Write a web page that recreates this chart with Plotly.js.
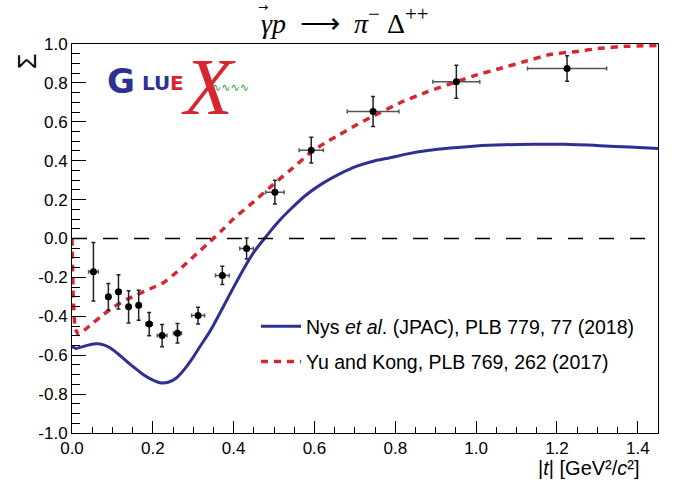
<!DOCTYPE html>
<html><head><meta charset="utf-8">
<script src="https://cdn.plot.ly/plotly-3.0.1.min.js"></script>
<style>body{margin:0;background:#fff}</style></head>
<body><div id="c" style="width:678px;height:485px"></div>
<script>
// GlueX data points
const dataT    = [0.053, 0.090, 0.115, 0.140, 0.165, 0.191, 0.223, 0.261, 0.312, 0.372, 0.432, 0.502, 0.592, 0.745, 0.951, 1.225];
const dataSig  = [-0.171, -0.300, -0.274, -0.351, -0.343, -0.440, -0.499, -0.487, -0.396, -0.190, -0.051, 0.238, 0.454, 0.653, 0.806, 0.874];
const dataSigErr = [0.150, 0.068, 0.088, 0.083, 0.077, 0.060, 0.057, 0.050, 0.043, 0.047, 0.054, 0.061, 0.066, 0.077, 0.085, 0.066];
const dataTErr = [0.012, 0.005, 0.005, 0.005, 0.005, 0.008, 0.012, 0.010, 0.016, 0.017, 0.017, 0.023, 0.030, 0.064, 0.058, 0.098];

// Nys et al. (JPAC) curve
const jpacT   = [0, 0.01, 0.02, 0.04, 0.061, 0.08, 0.094, 0.115, 0.135, 0.155, 0.176, 0.198, 0.218, 0.24, 0.259, 0.28, 0.30, 0.32, 0.342, 0.375, 0.40, 0.424, 0.45, 0.482, 0.51, 0.54, 0.58, 0.622, 0.66, 0.705, 0.75, 0.787, 0.83, 0.88, 0.936, 1.0, 1.07, 1.142, 1.22, 1.307, 1.38, 1.45];
const jpacSig = [-0.555, -0.565, -0.56, -0.548, -0.541, -0.548, -0.562, -0.595, -0.631, -0.665, -0.699, -0.726, -0.742, -0.738, -0.716, -0.668, -0.61, -0.545, -0.475, -0.348, -0.25, -0.159, -0.07, 0.015, 0.085, 0.149, 0.225, 0.286, 0.33, 0.372, 0.40, 0.415, 0.435, 0.452, 0.465, 0.476, 0.482, 0.485, 0.484, 0.477, 0.47, 0.463];

// Yu and Kong curve
const ykT   = [0, 0.003, 0.008, 0.016, 0.04, 0.078, 0.105, 0.135, 0.16, 0.185, 0.205, 0.226, 0.255, 0.284, 0.313, 0.342, 0.37, 0.399, 0.45, 0.498, 0.545, 0.589, 0.625, 0.663, 0.70, 0.746, 0.812, 0.88, 0.951, 1.0, 1.059, 1.12, 1.183, 1.25, 1.307, 1.37, 1.45];
const ykSig = [0.0, -0.3, -0.46, -0.494, -0.455, -0.39, -0.35, -0.314, -0.29, -0.266, -0.248, -0.228, -0.18, -0.125, -0.07, -0.015, 0.04, 0.10, 0.19, 0.278, 0.36, 0.44, 0.49, 0.535, 0.58, 0.63, 0.698, 0.755, 0.806, 0.84, 0.874, 0.91, 0.946, 0.962, 0.978, 0.988, 0.992];

const xTickVals = [0, 0.2, 0.4, 0.6, 0.8, 1.0, 1.2, 1.4];
const xTickText = ['0.0', '0.2', '0.4', '0.6', '0.8', '1.0', '1.2', '1.4'];
const yTickVals = [-1, -0.8, -0.6, -0.4, -0.2, 0, 0.2, 0.4, 0.6, 0.8, 1.0];
const yTickText = ['-1.0', '-0.8', '-0.6', '-0.4', '-0.2', '0.0', '0.2', '0.4', '0.6', '0.8', '1.0'];

const L = 72, R = 658, T = 44, B = 433;
const px = x => (x - L) / (R - L);
const py = y => (B - y) / (B - T);

const BLUE = '#2e3192', RED = '#d7262e';
const FONT = 'Liberation Sans, Arial, sans-serif';

const traces = [
  {x: jpacT, y: jpacSig, mode: 'lines', line: {color: BLUE, width: 3, shape: 'spline', smoothing: 0.6},
   legendgroup: 'a', name: 'Nys <i>et al</i>. (JPAC), PLB 779, 77 (2018)'},
  {x: ykT, y: ykSig, mode: 'lines', line: {color: RED, width: 3.5, dash: '7px,6px', shape: 'spline', smoothing: 0.4},
   legendgroup: 'b', name: 'Yu and Kong, PLB 769, 262 (2017)'},
  {x: dataT, y: dataSig, mode: 'markers', showlegend: false,
   marker: {color: '#000', size: 7},
   error_y: {type: 'data', array: dataSigErr, color: '#222', thickness: 1.5, width: 2},
   error_x: {type: 'data', array: dataTErr, color: '#555', thickness: 1.5, width: 2}}
];

function A(text, x, y, font, extra) {
  return Object.assign({text: text, x: px(x), y: py(y), xref: 'paper', yref: 'paper', showarrow: false,
    xanchor: 'center', yanchor: 'middle', font: font}, extra || {});
}

const ann = [
  A('<i>γp</i>\u00a0\u00a0⟶\u00a0\u00a0<i>π</i><sup><span style="font-size:21px">−</span></sup>\u00a0Δ<sup><span style="font-size:21px">++</span></sup>',
    345, 20, {family: 'Liberation Serif, serif', size: 28, color: '#000'}),
  A('→', 263, 7, {family: 'DejaVu Sans, sans-serif', size: 12, color: '#000'}),
  A('Σ', 27, 62, {family: FONT, size: 25, color: '#000'}, {textangle: -90}),
  A('|<i>t</i>| [GeV²/<i>c</i>²]', 642, 468, {family: FONT, size: 20, color: '#000'}, {xanchor: 'right'}),
  // GlueX logo
  A('<b>G</b>', 121, 81, {family: 'DejaVu Sans, sans-serif', size: 34, color: BLUE}),
  A('<b>LU</b>', 156, 83, {family: 'DejaVu Sans, sans-serif', size: 20, color: BLUE}),
  A('<b>E</b>', 177, 83, {family: 'DejaVu Sans, sans-serif', size: 20, color: RED}),
  A('<i>X</i>', 208, 87, {family: 'Liberation Serif, serif', size: 80, color: RED}),
  A('∿∿∿∿', 230, 87, {family: 'DejaVu Sans, sans-serif', size: 11, color: '#3a9a3a'})
];

const layout = {
  width: 678, height: 485,
  margin: {l: L, r: 678 - R, t: T, b: 485 - B},
  paper_bgcolor: '#fff', plot_bgcolor: '#fff',
  showlegend: true,
  legend: {x: px(256), y: py(307), xanchor: 'left', yanchor: 'top', bgcolor: 'rgba(0,0,0,0)',
           font: {family: FONT, size: 19.5, color: '#000'}, itemwidth: 40, tracegroupgap: 7},
  xaxis: {range: [0, 1.45], tickvals: xTickVals, ticktext: xTickText, ticks: 'inside', ticklen: 12, tickwidth: 1,
          tickcolor: '#000', showline: true, mirror: true, linecolor: '#000', linewidth: 1,
          showgrid: false, zeroline: false, tickfont: {family: FONT, size: 17, color: '#000'},
          minor: {ticks: 'inside', dtick: 0.05, ticklen: 6, tickcolor: '#000', showgrid: false}},
  yaxis: {range: [-1, 1], tickvals: yTickVals, ticktext: yTickText, ticks: 'inside', ticklen: 14, tickwidth: 1,
          tickcolor: '#000', showline: true, mirror: true, linecolor: '#000', linewidth: 1,
          showgrid: false, zeroline: false, tickfont: {family: FONT, size: 17, color: '#000'},
          minor: {ticks: 'inside', dtick: 0.05, ticklen: 8, tickcolor: '#000', showgrid: false}},
  shapes: [{type: 'line', xref: 'paper', yref: 'y', x0: 0, x1: 1, y0: 0, y1: 0,
            line: {color: '#000', width: 1.5, dash: '15px,16px'}}],
  annotations: ann
};

Plotly.newPlot('c', traces, layout, {displayModeBar: false, staticPlot: true});
</script></body></html>
